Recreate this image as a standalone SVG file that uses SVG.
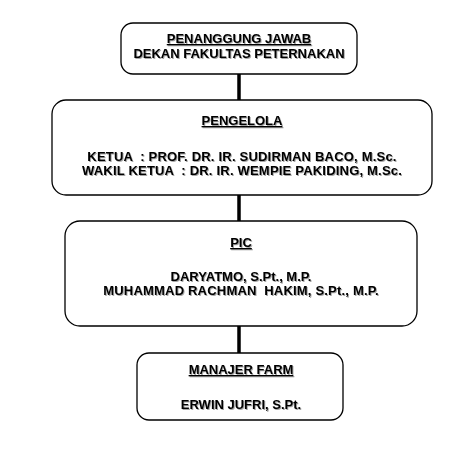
<svg xmlns="http://www.w3.org/2000/svg" width="460" height="456" viewBox="0 0 460 456">
<defs>
<filter id="sh" x="-5%" y="-20%" width="110%" height="150%">
<feDropShadow dx="1" dy="1" stdDeviation="0.4" flood-color="#000" flood-opacity="0.35"/>
</filter>
</defs>
<style>
.box{fill:#fff;stroke:#000;stroke-width:1.3}
.t{font-family:"Liberation Sans",Arial,sans-serif;font-weight:bold;font-size:13px;fill:#000;text-anchor:middle;white-space:pre;filter:url(#sh)}
.w{letter-spacing:0.2px}
.u{text-decoration:underline}
.ln{stroke:#000;stroke-width:3.5;fill:none}
</style>
<rect width="460" height="456" fill="#fff"/>
<g id="connectors">
<line class="ln" x1="239" y1="74" x2="239" y2="100"/>
<line class="ln" x1="239" y1="195" x2="239" y2="221"/>
<line class="ln" x1="239" y1="326" x2="239" y2="353"/>
</g>
<g id="penanggung-jawab">
<rect class="box" x="121" y="23" width="236" height="51" rx="12"/>
<text class="t u" x="239" y="43">PENANGGUNG JAWAB</text>
<text class="t" x="239" y="58">DEKAN FAKULTAS PETERNAKAN</text>
</g>
<g id="pengelola">
<rect class="box" x="52" y="100" width="380" height="95" rx="14"/>
<text class="t u" x="242" y="125">PENGELOLA</text>
<text class="t w" x="242" y="161">KETUA  : PROF. DR. IR. SUDIRMAN BACO, M.Sc.</text>
<text class="t w" x="242" y="175">WAKIL KETUA  : DR. IR. WEMPIE PAKIDING, M.Sc.</text>
</g>
<g id="pic">
<rect class="box" x="65" y="221" width="352" height="105" rx="15"/>
<text class="t u" x="241" y="247">PIC</text>
<text class="t" x="241" y="281">DARYATMO, S.Pt., M.P.</text>
<text class="t w" x="241" y="295">MUHAMMAD RACHMAN  HAKIM, S.Pt., M.P.</text>
</g>
<g id="manajer-farm">
<rect class="box" x="137" y="353" width="206" height="67" rx="12"/>
<text class="t u" x="241" y="374">MANAJER FARM</text>
<text class="t" x="241" y="409">ERWIN JUFRI, S.Pt.</text>
</g>
</svg>
